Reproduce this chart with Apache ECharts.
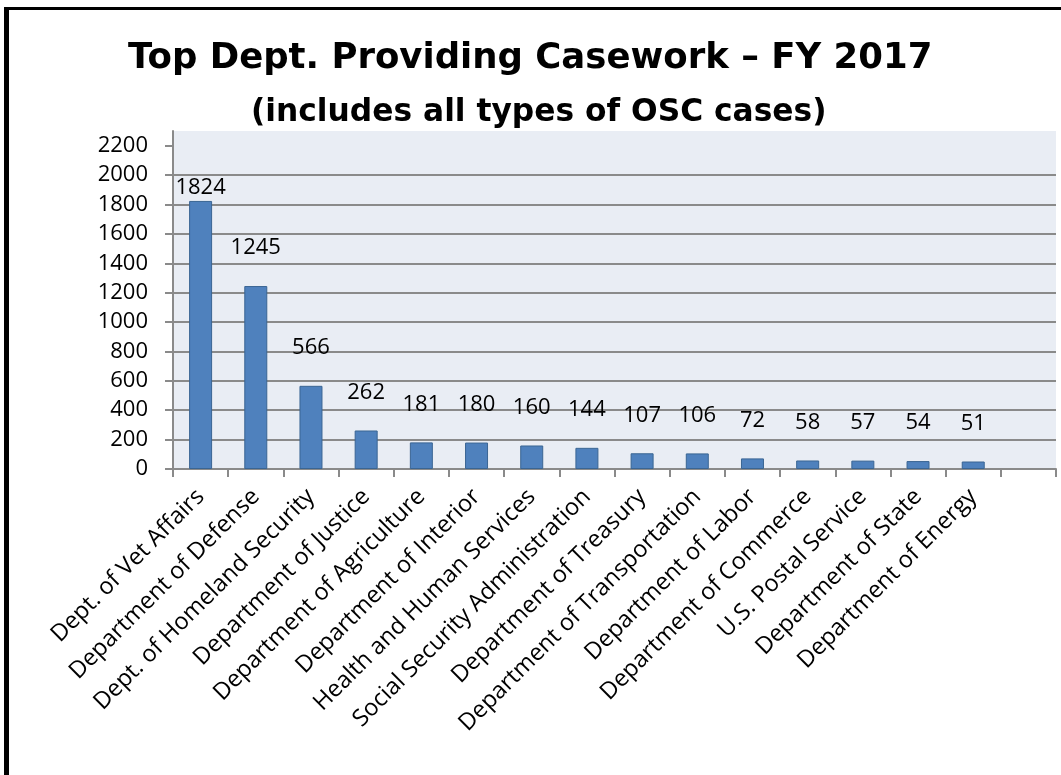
<!DOCTYPE html>
<html>
<head>
<meta charset="utf-8">
<script src="https://cdn.jsdelivr.net/npm/echarts@6/dist/echarts.min.js"></script>
<style>
html,body{margin:0;padding:0;background:#fff;}
#chart{width:1061px;height:775px;}
</style>
</head>
<body>
<div id="chart"></div>
<script>
const titleText = 'Top Dept. Providing Casework \u2013 FY 2017';
const subtitleText = '(includes all types of OSC cases)';
const categories = [
  'Dept. of Vet Affairs',
  'Department of Defense',
  'Dept. of Homeland Security',
  'Department of Justice',
  'Department of Agriculture',
  'Department of Interior',
  'Health and Human Services',
  'Social Security Administration',
  'Department of Treasury',
  'Department of Transportation',
  'Department of Labor',
  'Department of Commerce',
  'U.S. Postal Service',
  'Department of State',
  'Department of Energy',
  ''
];
const values = [1824, 1245, 566, 262, 181, 180, 160, 144, 107, 106, 72, 58, 57, 54, 51];
const yTicks = [0, 200, 400, 600, 800, 1000, 1200, 1400, 1600, 1800, 2000, 2200];

const chart = echarts.init(document.getElementById('chart'), null, {renderer: 'canvas'});
const textFont = '"Open Sans", "Liberation Sans", sans-serif';
const titleFont = '"DejaVu Sans", Verdana, sans-serif';
const gray = '#8a8a8a';

chart.setOption({
  backgroundColor: '#ffffff',
  animation: false,
  title: [
    {
      text: titleText,
      left: 123,
      top: 36,
      textStyle: {fontFamily: titleFont, fontWeight: 'bold', fontSize: 35.5, color: '#000'}
    },
    {
      text: subtitleText,
      left: 246,
      top: 92,
      textStyle: {fontFamily: titleFont, fontWeight: 'bold', fontSize: 31.3, color: '#000'}
    }
  ],
  graphic: [
    {type: 'rect', shape: {x: 4, y: 7, width: 1057, height: 3}, style: {fill: '#000'}},
    {type: 'rect', shape: {x: 4, y: 7, width: 5, height: 768}, style: {fill: '#000'}}
  ],
  grid: {
    left: 173, right: 5, top: 131, bottom: 306,
    show: true, backgroundColor: '#E9EDF4', borderWidth: 0
  },
  xAxis: {
    type: 'category',
    data: categories,
    axisLine: {lineStyle: {color: gray, width: 2}},
    axisTick: {show: true, length: 8, lineStyle: {color: gray, width: 2}},
    axisLabel: {rotate: 45, interval: 0, margin: 24, fontFamily: textFont, fontSize: 23.5, color: '#000'},
    splitLine: {show: false}
  },
  yAxis: {
    type: 'value',
    min: 0, max: 2300, interval: 200,
    axisLine: {show: true, lineStyle: {color: gray, width: 2}},
    axisTick: {show: true, length: 8, customValues: yTicks, lineStyle: {color: gray, width: 2}},
    axisLabel: {customValues: yTicks, margin: 25, fontFamily: textFont, fontSize: 22, color: '#000',
      formatter: (v) => String(v)},
    splitLine: {show: true, showMaxLine: false, lineStyle: {color: gray, width: 2}}
  },
  series: [{
    type: 'bar',
    barWidth: 23,
    data: values.map((v, i) => i === 0 ? {value: v, label: {distance: 2}} : v),
    itemStyle: {color: '#4F81BD', borderColor: '#3A6593', borderWidth: 1},
    label: {
      show: true, position: 'top', distance: 27,
      fontFamily: textFont, fontSize: 22, color: '#000'
    }
  }]
});
</script>
</body>
</html>
